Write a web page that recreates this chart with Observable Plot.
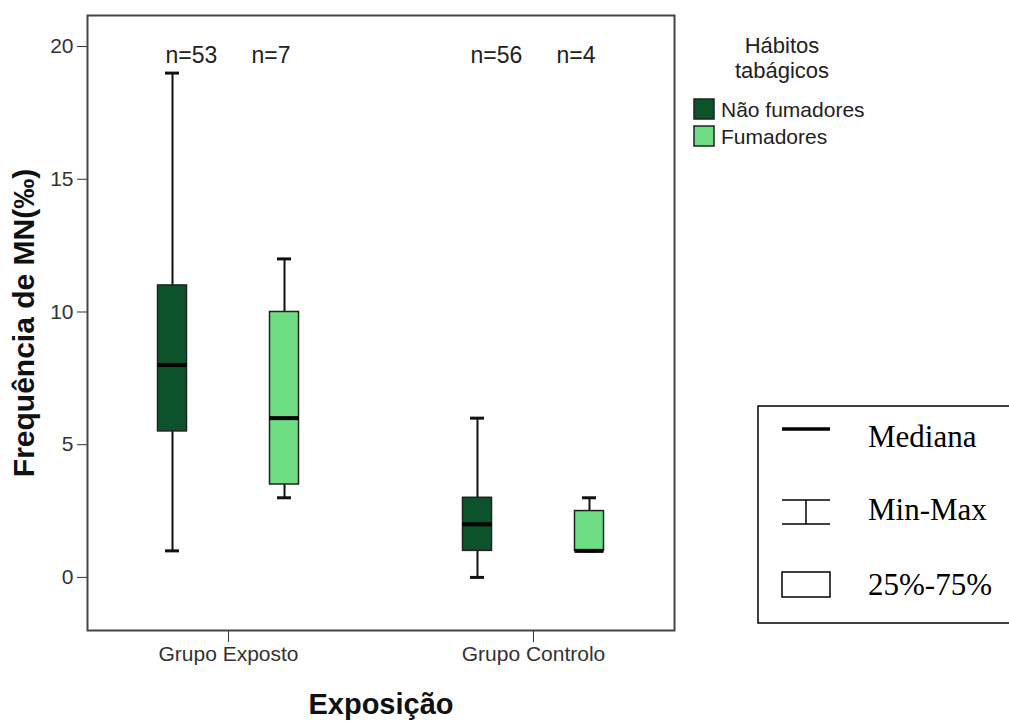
<!DOCTYPE html>
<html>
<head>
<meta charset="utf-8">
<script src="https://cdn.jsdelivr.net/npm/d3@7"></script>
<script src="https://cdn.jsdelivr.net/npm/@observablehq/plot@0.6"></script>
<style>
  html, body { margin: 0; padding: 0; background: #fff; }
  #wrap { position: relative; width: 1009px; height: 722px; overflow: hidden; }
  #overlay { position: absolute; left: 0; top: 0; pointer-events: none; }
</style>
</head>
<body>
<div id="wrap"></div>
<script>
// ---- data ----
const groups = ["Grupo Exposto", "Grupo Controlo"];
const habits = ["Não fumadores", "Fumadores"];
const habitColors = ["#0c522b", "#6fdd84"];
const boxGroup = ["Grupo Exposto", "Grupo Exposto", "Grupo Controlo", "Grupo Controlo"];
const boxHabit = ["Não fumadores", "Fumadores", "Não fumadores", "Fumadores"];
const minVals = [1, 3, 0, 1];
const q1Vals = [5.5, 3.5, 1, 1];
const medVals = [8, 6, 2, 1];
const q3Vals = [11, 10, 3, 2.5];
const maxVals = [19, 12, 6, 3];
const nVals = [53, 7, 56, 4];
const yTicks = [0, 5, 10, 15, 20];
const yTitle = "Frequência de MN(‰)";
const xTitle = "Exposição";
const legendTitle = ["Hábitos", "tabágicos"];
const keyLabels = ["Mediana", "Min-Max", "25%-75%"];

const rows = boxGroup.map((g, i) => ({
  group: g, habit: boxHabit[i], min: minVals[i], q1: q1Vals[i],
  median: medVals[i], q3: q3Vals[i], max: maxVals[i], n: nVals[i]
}));

// layout constants
const habitDx = {"Não fumadores": -56, "Fumadores": 56};
const nDx = {"Não fumadores": -63, "Fumadores": 23};

const marks = [Plot.frame({stroke: "#444", strokeWidth: 2})];
for (const h of habits) {
  const d = rows.filter(r => r.habit === h);
  const dx = habitDx[h];
  marks.push(
    Plot.ruleX(d, {x: "group", y1: "min", y2: "max", dx, stroke: "#111", strokeWidth: 2}),
    Plot.tickY(d, {x: "group", y: "min", dx, stroke: "#111", strokeWidth: 3, insetLeft: 7.5, insetRight: 7.5}),
    Plot.tickY(d, {x: "group", y: "max", dx, stroke: "#111", strokeWidth: 3, insetLeft: 7.5, insetRight: 7.5}),
    Plot.barY(d, {x: "group", y1: "q1", y2: "q3", dx, fill: "habit", stroke: "#222", strokeWidth: 1.5}),
    Plot.tickY(d, {x: "group", y: "median", dx, stroke: "#000", strokeWidth: 4}),
    Plot.text(d, {x: "group", text: r => "n=" + r.n, frameAnchor: "top", dy: 31, dx: nDx[h],
      textAnchor: "start", fontSize: 23, fill: "#222"})
  );
}
marks.push(
  Plot.text([yTitle], {text: d => d, frameAnchor: "left", textAnchor: "middle", rotate: -90, dx: -63, fontSize: 30,
    fontWeight: "bold", fill: "#111"}),
  Plot.text([xTitle], {text: d => d, frameAnchor: "bottom", textAnchor: "middle", dy: 74, fontSize: 29,
    fontWeight: "bold", fill: "#111", lineAnchor: "middle"})
);

const chart = Plot.plot({
  width: 1009,
  height: 722,
  marginLeft: 87,
  marginRight: 335,
  marginTop: 15,
  marginBottom: 92,
  style: {fontFamily: "'Liberation Sans', Arial, sans-serif", fontSize: "21px", color: "#333", background: "#fff", overflow: "visible"},
  x: {domain: groups, paddingInner: 0.9049, paddingOuter: 0.4148, round: false, tickSize: 12, tickPadding: 4, label: null},
  y: {domain: [-2, 21.17], ticks: yTicks, tickSize: 10, tickPadding: 4, label: null},
  color: {domain: habits, range: habitColors},
  marks
});
document.getElementById("wrap").appendChild(chart);

// ---- legends overlay ----
const svg = d3.select("#wrap").append("svg").attr("id", "overlay")
  .attr("width", 1009).attr("height", 722);
const sans = "'Liberation Sans', Arial, sans-serif";
const serif = "'Liberation Serif', 'Times New Roman', serif";
svg.selectAll("text.lt").data(legendTitle).join("text")
  .attr("x", 782).attr("y", (d, i) => 53 + i * 25)
  .attr("text-anchor", "middle").attr("font-family", sans).attr("font-size", 22).attr("fill", "#222")
  .text(d => d);
const sw = svg.selectAll("g.sw").data(habits).join("g").attr("transform", (d, i) => `translate(694,${99 + i * 27})`);
sw.append("rect").attr("width", 20).attr("height", 20)
  .attr("fill", (d, i) => habitColors[i]).attr("stroke", "#222").attr("stroke-width", 1.5);
sw.append("text").attr("x", 27).attr("y", 18).attr("font-family", sans).attr("font-size", 21).attr("fill", "#222").text(d => d);

// box key
svg.append("rect").attr("x", 758).attr("y", 406).attr("width", 300).attr("height", 217)
  .attr("fill", "#fff").attr("stroke", "#000").attr("stroke-width", 1.5);
svg.append("line").attr("x1", 782).attr("x2", 830).attr("y1", 429).attr("y2", 429).attr("stroke", "#000").attr("stroke-width", 3.5);
svg.append("line").attr("x1", 782).attr("x2", 830).attr("y1", 500).attr("y2", 500).attr("stroke", "#000").attr("stroke-width", 1.5);
svg.append("line").attr("x1", 782).attr("x2", 830).attr("y1", 524).attr("y2", 524).attr("stroke", "#000").attr("stroke-width", 1.5);
svg.append("line").attr("x1", 806).attr("x2", 806).attr("y1", 500).attr("y2", 524).attr("stroke", "#000").attr("stroke-width", 1.5);
svg.append("rect").attr("x", 782).attr("y", 572).attr("width", 48).attr("height", 25)
  .attr("fill", "none").attr("stroke", "#000").attr("stroke-width", 1.5);
const keyY = [447, 520, 595];
svg.selectAll("text.key").data(keyLabels).join("text")
  .attr("x", 868).attr("y", (d, i) => keyY[i])
  .attr("font-family", serif).attr("font-size", 31).attr("fill", "#000").text(d => d);
</script>
</body>
</html>
